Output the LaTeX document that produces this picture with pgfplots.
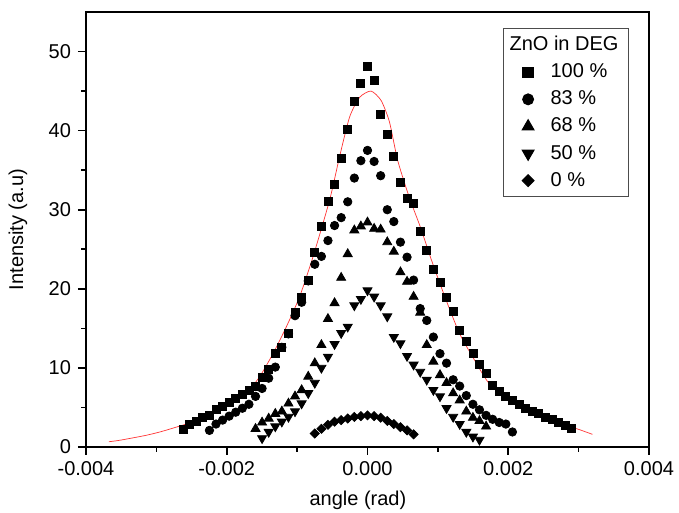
\documentclass[border=0pt]{standalone}
\usepackage{fontspec}
\setmainfont{Liberation Sans}
\usepackage{pgfplots}
\usepackage{pgfplotstable}
\pgfplotsset{compat=1.18}
\usetikzlibrary{calc}

% ZnO in DEG, 100 %
\pgfplotstableread{
x y
-0.002621 2.2
-0.002527 2.8
-0.002434 3.2
-0.002340 3.7
-0.002246 4.0
-0.002153 4.7
-0.002059 5.1
-0.001966 5.7
-0.001872 6.1
-0.001778 6.6
-0.001685 7.2
-0.001591 7.6
-0.001498 8.8
-0.001404 9.8
-0.001310 11.8
-0.001217 12.6
-0.001123 14.3
-0.001030 17.0
-0.000936 18.9
-0.000842 21.1
-0.000749 24.6
-0.000655 27.9
-0.000562 31.1
-0.000468 33.2
-0.000374 36.5
-0.000281 40.1
-0.000187 43.7
-0.000094 46.0
0.000000 48.1
0.000094 46.4
0.000187 42.1
0.000281 39.5
0.000374 36.7
0.000468 33.5
0.000562 31.4
0.000655 30.8
0.000749 27.2
0.000842 24.9
0.000936 22.4
0.001030 20.8
0.001123 18.9
0.001217 17.2
0.001310 14.7
0.001404 13.4
0.001498 11.8
0.001591 10.5
0.001685 9.3
0.001778 7.8
0.001872 7.0
0.001966 6.4
0.002059 5.9
0.002153 5.4
0.002246 4.9
0.002340 4.5
0.002434 4.2
0.002527 3.7
0.002621 3.5
0.002714 3.1
0.002808 2.7
0.002902 2.4
}\hundred

% 83 %
\pgfplotstableread{
x y
-0.002246 2.1
-0.002153 2.9
-0.002059 3.4
-0.001966 3.9
-0.001872 4.4
-0.001778 4.9
-0.001685 5.4
-0.001591 6.4
-0.001498 7.4
-0.001404 8.7
-0.001310 10.1
-0.001217 12.6
-0.001123 14.3
-0.001030 16.6
-0.000936 18.3
-0.000842 21.0
-0.000749 23.1
-0.000655 24.1
-0.000562 26.1
-0.000468 28.0
-0.000374 29.0
-0.000281 31.0
-0.000187 34.0
-0.000094 36.2
0.000000 37.5
0.000094 36.1
0.000187 34.3
0.000281 30.0
0.000374 28.5
0.000468 25.9
0.000562 24.0
0.000655 21.1
0.000749 17.5
0.000842 16.0
0.000936 13.9
0.001030 11.8
0.001123 10.6
0.001217 8.5
0.001310 7.7
0.001404 6.5
0.001498 5.4
0.001591 4.7
0.001685 4.0
0.001778 3.5
0.001872 3.1
0.001966 2.9
0.002059 1.9
}\eightythree

% 68 %
\pgfplotstableread{
x y
-0.001591 2.3
-0.001498 3.1
-0.001404 3.6
-0.001310 4.2
-0.001217 4.5
-0.001123 5.5
-0.001030 6.4
-0.000936 7.2
-0.000842 8.9
-0.000749 10.6
-0.000655 12.9
-0.000562 16.2
-0.000468 18.2
-0.000374 21.4
-0.000281 24.4
-0.000187 27.4
-0.000094 27.9
0.000000 28.4
0.000094 27.6
0.000187 27.5
0.000281 25.9
0.000374 24.7
0.000468 22.1
0.000562 20.9
0.000655 19.0
0.000749 17.0
0.000842 12.9
0.000936 10.8
0.001030 9.1
0.001123 8.1
0.001217 6.8
0.001310 5.9
0.001404 4.5
0.001498 3.7
0.001591 3.3
0.001685 2.6
}\sixtyeight

% 50 %
\pgfplotstableread{
x y
-0.001498 1.1
-0.001404 1.9
-0.001310 2.6
-0.001217 3.2
-0.001123 3.8
-0.001030 4.5
-0.000936 5.5
-0.000842 6.8
-0.000749 8.1
-0.000655 10.0
-0.000562 11.4
-0.000468 13.0
-0.000374 14.4
-0.000281 15.2
-0.000187 17.9
-0.000094 18.7
0.000000 19.8
0.000094 19.0
0.000187 17.9
0.000281 16.5
0.000374 13.9
0.000468 13.1
0.000562 11.5
0.000655 10.4
0.000749 9.5
0.000842 8.5
0.000936 7.2
0.001030 6.4
0.001123 4.9
0.001217 3.8
0.001310 2.9
0.001404 1.9
0.001498 1.3
0.001591 0.9
}\fifty

% 0 %
\pgfplotstableread{
x y
-0.000749 1.7
-0.000655 2.3
-0.000562 2.8
-0.000468 3.2
-0.000374 3.4
-0.000281 3.6
-0.000187 3.8
-0.000094 3.9
0.000000 4.0
0.000094 3.9
0.000187 3.7
0.000281 3.3
0.000374 2.9
0.000468 2.5
0.000562 2.1
0.000655 1.6
}\zero

% fitted curve
\pgfplotstableread{
x y
-0.003674 0.67
-0.003520 0.85
-0.003160 1.45
-0.002950 1.9
-0.002740 2.45
-0.002478 3.2
-0.002240 4.2
-0.002004 5.3
-0.001721 6.8
-0.001532 8.9
-0.001343 11.8
-0.001153 15.2
-0.000965 19.0
-0.000776 24.0
-0.000539 31.2
-0.000397 36.7
-0.000255 41.7
-0.000113 44.2
0.000050 45.0
0.000194 43.8
0.000312 41.1
0.000430 36.2
0.000596 31.5
0.000747 27.9
0.000926 23.2
0.001116 18.6
0.001305 14.4
0.001494 11.4
0.001731 8.0
0.002061 5.7
0.002230 5.0
0.002440 4.3
0.002650 3.4
0.002865 2.6
0.003010 2.2
0.003196 1.6
}\fit

\begin{document}
\begin{tikzpicture}
\begin{axis}[
  name=ax,
  scale only axis,
  width=281.5bp, height=217.5bp,
  xmin=-0.004, xmax=0.004, ymin=0, ymax=55,
  scaled x ticks=false,
  xtick={-0.004,-0.002,0,0.002,0.004},
  xticklabels={-0.004,-0.002,0.000,0.002,0.004},
  minor xtick={-0.003,-0.001,0.001,0.003},
  ytick={0,10,20,30,40,50},
  yticklabels={0,10,20,30,40,50},
  minor ytick={5,15,25,35,45},
  tick align=outside,
  xtick pos=bottom, ytick pos=left,
  major tick length=4bp, minor tick length=2.5bp,
  axis line style={line width=0.8bp},
  every tick/.style={black, line width=0.8bp},
  tick label style={font=\fontsize{10bp}{12bp}\selectfont},
  xlabel={angle (rad)}, ylabel={Intensity (a.u)},
  xlabel style={font=\fontsize{10bp}{12bp}\selectfont, at={(axis description cs:0.483,-0.1218)}, anchor=center},
  ylabel style={font=\fontsize{10bp}{12bp}\selectfont, at={(axis description cs:-0.1208,0.5)}, anchor=center},
  legend cell align=left,
  legend style={at={(axis description cs:0.9645,0.9632)}, anchor=north east,
    draw=black!70, line width=0.5bp, inner xsep=3bp, inner ysep=1.8bp, row sep=1.1bp,
    font=\fontsize{10bp}{12bp}\selectfont},
  mk/.style={only marks, black, mark options={solid, fill=black},
    legend image code/.code={\path (0bp,0bp) (18bp,0bp); \draw[mark repeat=2,mark phase=2, every mark/.append style={scale=1.3}] plot coordinates {(0bp,0bp)(9bp,0bp)(18bp,0bp)};}},
]
\addplot[forget plot, smooth, tension=0.4, red!80, line width=0.35bp, mark=none] table {\fit};
\addlegendimage{empty legend}
\addlegendentry{\hspace*{-20.5bp}ZnO in DEG}
\addplot[mk, mark=square*, mark size=2bp] table {\hundred};
\addlegendentry{100 \%}
\addplot[mk, mark=*, mark size=2.1bp] table {\eightythree};
\addlegendentry{83 \%}
\addplot[mk, mark=triangle*, mark size=2.6bp] table {\sixtyeight};
\addlegendentry{68 \%}
\addplot[mk, mark=triangle*, mark size=2.6bp, mark options={rotate=180}] table {\fifty};
\addlegendentry{50 \%}
\addplot[mk, mark=square*, mark size=1.6bp, mark options={rotate=45}] table {\zero};
\addlegendentry{0 \%}
\end{axis}
\pgfresetboundingbox
\path ($(ax.south west)+(-43bp,-33bp)$) rectangle ($(ax.north east)+(15bp,6bp)$);
\end{tikzpicture}
\end{document}
